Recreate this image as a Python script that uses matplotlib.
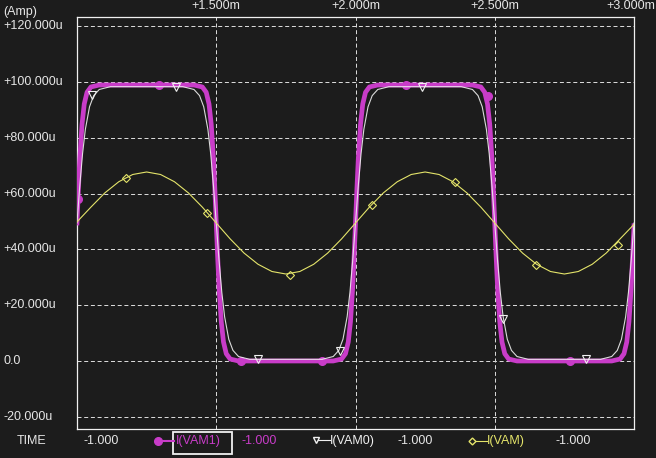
import numpy as np
import matplotlib
matplotlib.use('Agg')
import matplotlib.pyplot as plt
import matplotlib.transforms as mtransforms
from matplotlib.lines import Line2D
from matplotlib.patches import Rectangle

plt.rcParams['font.family'] = ['Liberation Sans', 'DejaVu Sans']

# time in ms, current in uA
t_vam1 = [1.000, 1.005, 1.010, 1.018, 1.026, 1.036, 1.050, 1.080,
          1.420, 1.450, 1.464, 1.474, 1.482, 1.490, 1.495, 1.500, 1.505, 1.510, 1.518, 1.526, 1.536, 1.550, 1.580,
          1.920, 1.950, 1.964, 1.974, 1.982, 1.990, 1.995, 2.000, 2.005, 2.010, 2.018, 2.026, 2.036, 2.050, 2.080,
          2.420, 2.450, 2.464, 2.474, 2.482, 2.490, 2.495, 2.500, 2.505, 2.510, 2.518, 2.526, 2.536, 2.550, 2.580,
          2.920, 2.950, 2.964, 2.974, 2.982, 2.990, 2.995, 3.000]
i_vam1 = [49.5, 61.6, 72.4, 84.9, 92.2, 96.4, 98.3, 99.0,
          99.0, 98.3, 96.4, 92.2, 84.9, 72.4, 61.6, 49.5, 37.4, 26.6, 14.1, 6.8, 2.6, 0.7, 0.0,
          0.0, 0.7, 2.6, 6.8, 14.1, 26.6, 37.4, 49.5, 61.6, 72.4, 84.9, 92.2, 96.4, 98.3, 99.0,
          99.0, 98.3, 96.4, 92.2, 84.9, 72.4, 61.6, 49.5, 37.4, 26.6, 14.1, 6.8, 2.6, 0.7, 0.0,
          0.0, 0.7, 2.6, 6.8, 14.1, 26.6, 37.4, 48.5]

t_vam0 = [1.000, 1.010, 1.020, 1.030, 1.045, 1.060, 1.080, 1.120,
          1.380, 1.420, 1.440, 1.455, 1.470, 1.480, 1.490, 1.500, 1.510, 1.520, 1.530, 1.545, 1.560, 1.580, 1.620,
          1.880, 1.920, 1.940, 1.955, 1.970, 1.980, 1.990, 2.000, 2.010, 2.020, 2.030, 2.045, 2.060, 2.080, 2.120,
          2.380, 2.420, 2.440, 2.455, 2.470, 2.480, 2.490, 2.500, 2.510, 2.520, 2.530, 2.545, 2.560, 2.580, 2.620,
          2.880, 2.920, 2.940, 2.955, 2.970, 2.980, 2.990, 3.000]
i_vam0 = [49.5, 62.9, 74.4, 83.1, 91.2, 95.2, 97.4, 98.4,
          98.4, 97.4, 95.2, 91.2, 83.1, 74.4, 62.9, 49.5, 36.1, 24.6, 15.9, 7.8, 3.8, 1.6, 0.6,
          0.6, 1.6, 3.8, 7.8, 15.9, 24.6, 36.1, 49.5, 62.9, 74.4, 83.1, 91.2, 95.2, 97.4, 98.4,
          98.4, 97.4, 95.2, 91.2, 83.1, 74.4, 62.9, 49.5, 36.1, 24.6, 15.9, 7.8, 3.8, 1.6, 0.6,
          0.6, 1.6, 3.8, 7.8, 15.9, 24.6, 36.1, 49.5]

t_vam = [1.00, 1.05, 1.10, 1.15, 1.20, 1.25, 1.30, 1.35, 1.40, 1.45,
         1.50, 1.55, 1.60, 1.65, 1.70, 1.75, 1.80, 1.85, 1.90, 1.95,
         2.00, 2.05, 2.10, 2.15, 2.20, 2.25, 2.30, 2.35, 2.40, 2.45,
         2.50, 2.55, 2.60, 2.65, 2.70, 2.75, 2.80, 2.85, 2.90, 2.95, 3.00]
i_vam = [49.9, 55.2, 60.3, 64.3, 66.9, 67.8, 66.9, 64.3, 60.3, 55.2,
         49.5, 43.8, 38.7, 34.7, 32.1, 31.2, 32.1, 34.7, 38.7, 43.8,
         49.5, 55.2, 60.3, 64.3, 66.9, 67.8, 66.9, 64.3, 60.3, 55.2,
         49.5, 43.8, 38.7, 34.7, 32.1, 31.2, 32.1, 34.7, 38.7, 43.8, 49.0]

# marker positions
mk_vam1_t = [1.003, 1.295, 1.590, 1.881, 2.180, 2.474, 2.770]
mk_vam1_i = [58.0, 99.0, 0.0, 0.0, 99.0, 95.0, 0.0]
mk_vam0_t = [1.055, 1.355, 1.649, 1.943, 2.237, 2.530, 2.827]
mk_vam0_i = [95.5, 98.4, 0.6, 3.5, 98.4, 15.0, 0.6]
mk_vam_t = [1.176, 1.468, 1.764, 2.061, 2.356, 2.649, 2.942]
mk_vam_i = [65.7, 53.1, 30.8, 55.8, 64.1, 34.4, 41.7]

y_ticks = [120, 100, 80, 60, 40, 20, 0, -20]
y_labels = ['+120.000u', '+100.000u', '+80.000u', '+60.000u', '+40.000u',
            '+20.000u', '0.0', '-20.000u']
x_ticks = [1.5, 2.0, 2.5, 3.0]
x_labels = ['+1.500m', '+2.000m', '+2.500m', '+3.000m']

bg = '#1c1c1c'
mag = '#c83cc8'
yel = '#e4e46a'
wht = '#f0f0f0'
txt = '#e6e6e6'

W, H = 656, 458
fig = plt.figure(figsize=(W / 100, H / 100), dpi=100)
fig.patch.set_facecolor(bg)
ax = fig.add_axes([77 / W, 1 - 429 / H, 557 / W, 412 / H])
ax.set_facecolor(bg)
ax.set_xlim(1.0, 3.0)
ax.set_ylim(-24.4, 123.4)
ax.set_xticks([])
ax.set_yticks([])
for s in ax.spines.values():
    s.set_color(wht)
    s.set_linewidth(0.9)

# dashed grid
for y in y_ticks:
    ax.axhline(y, color='#d8d8d8', lw=0.72, ls=(0, (4, 2.7)), zorder=1)
for x in x_ticks[:-1]:
    ax.axvline(x, color='#d8d8d8', lw=0.72, ls=(0, (4, 2.7)), zorder=1)

# traces
ax.plot(t_vam1, i_vam1, color=mag, lw=3.4, solid_joinstyle='round', zorder=3)
ax.plot(mk_vam1_t, mk_vam1_i, ls='none', marker='o', ms=5.5, color=mag, zorder=4)
ax.plot(t_vam0, i_vam0, color=wht, lw=0.8, alpha=0.9, zorder=5)
ax.plot(mk_vam0_t, mk_vam0_i, ls='none', marker='v', ms=5.5, mfc='none',
        mec=wht, mew=0.8, zorder=6)
ax.plot(t_vam, i_vam, color=yel, lw=0.8, zorder=5)
ax.plot(mk_vam_t, mk_vam_i, ls='none', marker='D', ms=4, mfc='none',
        mec=yel, mew=0.8, zorder=6)

# axis labels
ytr = mtransforms.blended_transform_factory(fig.transFigure, ax.transData)
for y, lab in zip(y_ticks, y_labels):
    ax.text(3 / W, y, lab, transform=ytr, ha='left', va='center',
            color=txt, fontsize=9, clip_on=False)
xtr = mtransforms.blended_transform_factory(ax.transData, fig.transFigure)
for x, lab in zip(x_ticks[:-1], x_labels[:-1]):
    ax.text(x, 1 - 6 / H, lab, transform=xtr, ha='center', va='center',
            color=txt, fontsize=9, clip_on=False)
# last label sits against the right edge of the window
fig.text(655 / W, 1 - 6 / H, x_labels[-1], ha='right', va='center',
         color=txt, fontsize=9)
fig.text(3 / W, 1 - 12 / H, '(Amp)', ha='left', va='center', color=txt, fontsize=9)

# bottom legend row
yr = 1 - 441 / H
fig.text(17 / W, yr, 'TIME', ha='left', va='center', color=txt, fontsize=9)
fig.text(84 / W, yr, '-1.000', ha='left', va='center', color=txt, fontsize=9)

fig.add_artist(Line2D([158 / W, 174 / W], [yr, yr], color=mag, lw=1.5,
                      marker='o', markevery=[0], ms=5.5))
fig.add_artist(Rectangle((173 / W, 1 - 454 / H), 59 / W, 22 / H, fill=False,
                         ec=wht, lw=1.3, transform=fig.transFigure))
fig.text(176 / W, yr, 'I(VAM1)', ha='left', va='center', color=mag, fontsize=9)
fig.text(241 / W, yr, '-1.000', ha='left', va='center', color=mag, fontsize=9)

fig.add_artist(Line2D([316 / W, 330 / W], [yr + 1 / H, yr + 1 / H], color=wht, lw=0.8,
                      marker='v', markevery=[0], ms=5, mfc=bg, mec=wht))
fig.text(330 / W, yr, 'I(VAM0)', ha='left', va='center', color=wht, fontsize=9)
fig.text(398 / W, yr, '-1.000', ha='left', va='center', color=txt, fontsize=9)

fig.add_artist(Line2D([472 / W, 487 / W], [yr, yr], color=yel, lw=0.8,
                      marker='D', markevery=[0], ms=3.5, mfc=bg, mec=yel))
fig.text(487 / W, yr, 'I(VAM)', ha='left', va='center', color=yel, fontsize=9)
fig.text(555 / W, yr, '-1.000', ha='left', va='center', color=txt, fontsize=9)

fig.savefig('out.png', dpi=100, facecolor=bg)
